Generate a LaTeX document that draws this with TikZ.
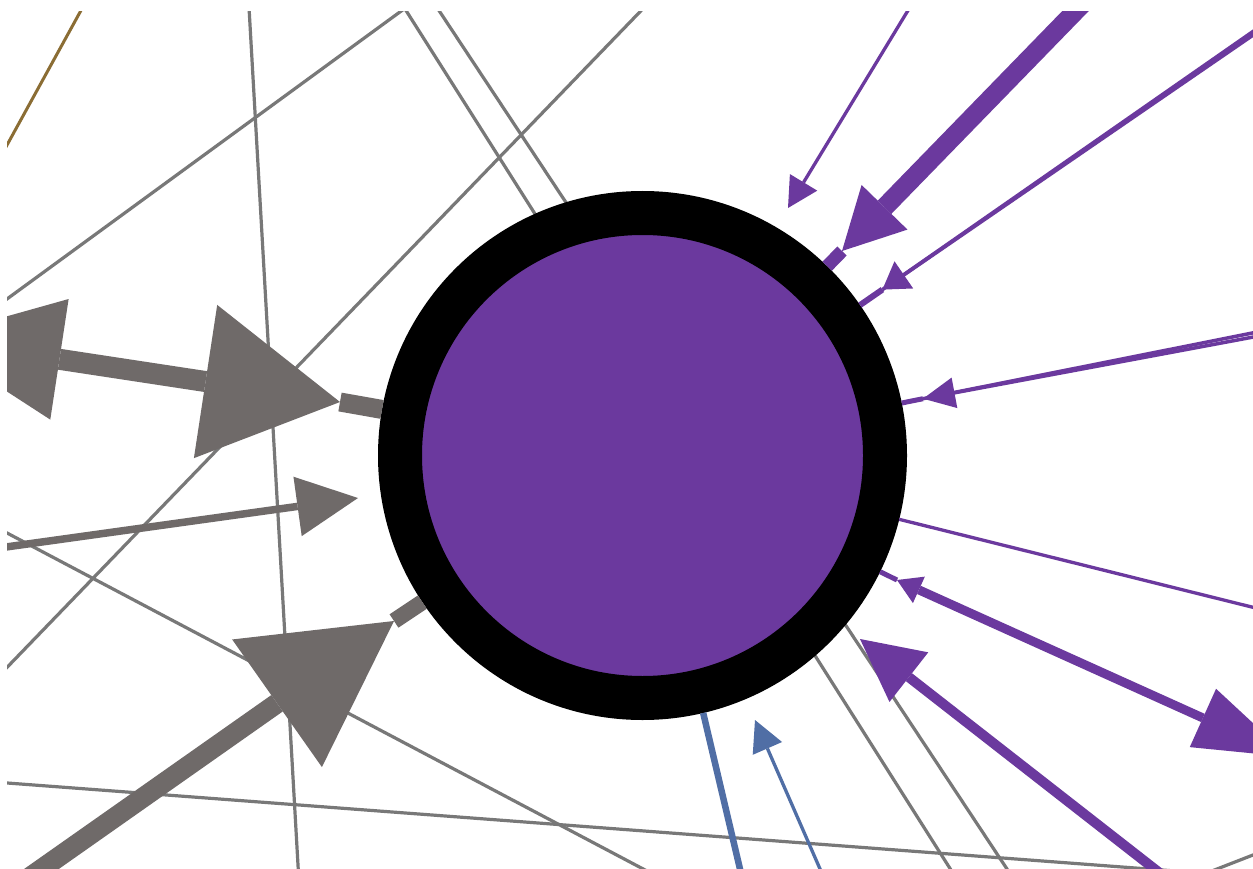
\documentclass[tikz,border=0pt]{standalone}
\usetikzlibrary{arrows.meta}
\definecolor{pur}{RGB}{107,57,158}
\definecolor{garr}{RGB}{111,106,105}
\definecolor{gln}{RGB}{120,120,120}
\definecolor{blu}{RGB}{80,110,165}
\definecolor{brn}{RGB}{139,109,52}
\begin{document}
\begin{tikzpicture}[x=1pt,y=-1pt,
  gline/.style={draw=gln, line width=3.2pt},
  brline/.style={draw=brn, line width=3pt},
  garrow/.style={draw=garr, fill=garr},
  parrow/.style={draw=pur, fill=pur},
  barrow/.style={draw=blu, fill=blu},
  hub/.style={circle, draw=black, fill=pur, line width=44pt, minimum size=485pt, inner sep=0pt}
]
\useasboundingbox (0,0) rectangle (1253,869);
\path[fill=white] (0,0) rectangle (1253,869);
\begin{scope}
\clip (7,12) rectangle (1253,869);
% far-end coordinates of the thin grey lines
\coordinate (L1a) at (248.3,-5);
\coordinate (L1b) at (300,900);
\coordinate (L2a) at (-10,311.4);
\coordinate (L2b) at (430,-10);
\coordinate (L3a) at (661,-10);
\coordinate (L3b) at (-10,685);
\coordinate (Laa) at (393,-10);
\coordinate (Lab) at (970,900);
\coordinate (Lba) at (425.4,-10);
\coordinate (Lbb) at (1027.5,900);
\coordinate (L5a) at (-10,524);
\coordinate (L5b) at (700,899);
\coordinate (L6a) at (-10,781.7);
\coordinate (L6b) at (1300,880.4);
\coordinate (L7a) at (1190,879.5);
\coordinate (L7b) at (1300,836.7);
\coordinate (Bra) at (-10,176);
\coordinate (Brb) at (90,-6);
\draw[brline] (Bra) -- (Brb);
\draw[gline] (L1a) -- (L1b);
\draw[gline] (L2a) -- (L2b);
\draw[gline] (L3a) -- (L3b);
\draw[gline] (Laa) -- (Lab);
\draw[gline] (Lba) -- (Lbb);
\draw[gline] (L5a) -- (L5b);
\draw[gline] (L6a) -- (L6b);
\draw[gline] (L7a) -- (L7b);
% hub
\node[hub] (c) at (642.5,455.5) {};
% grey arrows
\coordinate (Afar) at (-74,339);
\coordinate (Atip) at (340,402);
\draw[garrow, line width=21pt, {Triangle[length=135pt,width=122pt,line width=0pt]}-{Triangle[length=136pt,width=155pt,line width=0pt]}] (Afar) -- (Atip);
\draw[draw=garr, line width=19pt] (Atip) -- (c);
\coordinate (Bfar) at (-30,552);
\coordinate (Btip) at (358,498);
\draw[garrow, line width=7.5pt, -{Triangle[length=61pt,width=60pt,line width=0pt]}] (Bfar) -- (Btip);
\coordinate (Cfar) at (-51,934);
\coordinate (Ctip) at (394,621);
\draw[garrow, line width=20pt, -{Triangle[length=143pt,width=156pt,line width=0pt]}] (Cfar) -- (Ctip);
\draw[draw=garr, line width=16pt] (Ctip) -- (c);
% purple arrows
\coordinate (P1far) at (921.3,-11.5);
\coordinate (P1tip) at (788,208);
\draw[parrow, line width=3.3pt, -{Triangle[length=30pt,width=32pt,line width=0pt]}] (P1far) -- (P1tip);
\coordinate (P2far) at (1094.6,-8.6);
\coordinate (P2tip) at (842,251);
\draw[parrow, line width=19pt, -{Triangle[length=61pt,width=64pt,line width=0pt]}] (P2far) -- (P2tip);
\draw[draw=pur, line width=13pt] (P2tip) -- (c);
\coordinate (P3fa) at (1300,-1.2);
\coordinate (P3fb) at (1300,2.8);
\coordinate (P3tip) at (882.4,289.6);
\draw[draw=pur, line width=3.6pt] (P3fa) -- (P3tip);
\draw[parrow, line width=3.6pt, -{Triangle[length=26pt,width=33pt,line width=0pt]}] (P3fb) -- (P3tip);
\draw[draw=pur, line width=6pt] (P3tip) -- (c);
\coordinate (P4fa) at (1300,323.5);
\coordinate (P4fb) at (1300,328.3);
\coordinate (P4tip) at (923,398.7);
\draw[draw=pur, line width=3.5pt] (P4fa) -- (P4tip);
\draw[parrow, line width=3.5pt, -{Triangle[length=32pt,width=31pt,line width=0pt]}] (P4fb) -- (P4tip);
\draw[draw=pur, line width=5pt] (P4tip) -- (c);
\coordinate (P5far) at (1300,619);
\draw[draw=pur, line width=3.3pt] (c) -- (P5far);
\coordinate (P6a) at (897,580);
\coordinate (P6b) at (1289.5,757);
\draw[parrow, line width=9pt, {Triangle[length=24pt,width=29pt,line width=0pt]}-{Triangle[length=95pt,width=64pt,line width=0pt]}] (P6a) -- (P6b);
\draw[draw=pur, line width=5pt] (P6a) -- (c);
\coordinate (P7far) at (1193,899);
\coordinate (P7tip) at (860,639);
\draw[parrow, line width=10pt, -{Triangle[length=62pt,width=63pt,line width=0pt]}] (P7far) -- (P7tip);
% blue
\coordinate (B1far) at (747.3,900);
\draw[draw=blu, line width=6.5pt] (c) -- (B1far);
\coordinate (B2far) at (834,901);
\coordinate (B2tip) at (755,720);
\draw[barrow, line width=3.3pt, -{Triangle[length=31pt,width=32pt,line width=0pt]}] (B2far) -- (B2tip);
\end{scope}
\end{tikzpicture}
\end{document}
